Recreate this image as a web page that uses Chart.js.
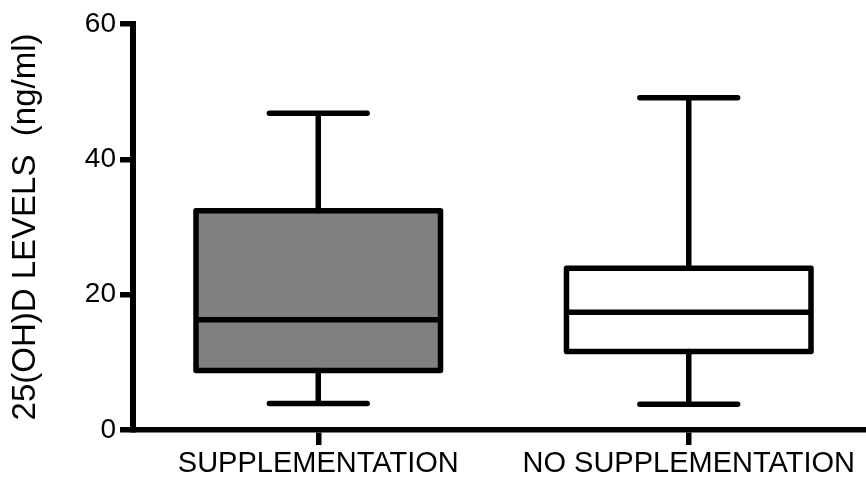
<!DOCTYPE html>
<html>
<head>
<meta charset="utf-8">
<script src="https://cdn.jsdelivr.net/npm/chart.js@4/dist/chart.umd.min.js"></script>
<style>
  html, body { margin: 0; padding: 0; background: #fff; overflow: hidden; }
  #wrap { width: 874px; height: 477px; }
</style>
</head>
<body>
<div id="wrap"><canvas id="grafico"></canvas></div>
<script>
// Dados (caixa: mínimo, Q1, mediana, Q3, máximo)
const categorias = ['SUPPLEMENTATION', 'NO SUPPLEMENTATION'];
const minimos = [3.9, 3.8];
const q1 = [8.8, 11.6];
const medianas = [16.3, 17.4];
const q3 = [32.4, 23.9];
const maximos = [46.8, 49.1];
const yTicks = [0, 20, 40, 60];
const tituloY = '25(OH)D LEVELS  (ng/ml)';

const cores = ['#808080', '#ffffff'];
const fonte = "'Liberation Sans', Arial, Helvetica, sans-serif";
const espessura = 5.5;

// Plugin que desenha contorno da caixa, mediana e bigodes
const boxPlot = {
    id: 'boxPlot',
    afterDatasetsDraw(chart) {
        const ctx = chart.ctx;
        const yScale = chart.scales.y;
        const meta = chart.getDatasetMeta(0);
        ctx.save();
        ctx.strokeStyle = '#000';
        ctx.lineWidth = espessura;
        ctx.lineJoin = 'round';
        ctx.lineCap = 'round';
        meta.data.forEach((bar, i) => {
            const half = bar.width / 2;
            const cap = bar.width * 0.2;
            const yTop = bar.y;
            const yBase = bar.base;
            const yMed = yScale.getPixelForValue(medianas[i]);
            const yMax = yScale.getPixelForValue(maximos[i]);
            const yMin = yScale.getPixelForValue(minimos[i]);

            // bigodes
            ctx.beginPath();
            ctx.moveTo(bar.x, yTop); ctx.lineTo(bar.x, yMax);
            ctx.moveTo(bar.x - cap, yMax); ctx.lineTo(bar.x + cap, yMax);
            ctx.moveTo(bar.x, yBase); ctx.lineTo(bar.x, yMin);
            ctx.moveTo(bar.x - cap, yMin); ctx.lineTo(bar.x + cap, yMin);
            ctx.stroke();

            // caixa
            ctx.beginPath();
            ctx.rect(bar.x - half, yTop, bar.width, yBase - yTop);
            ctx.stroke();

            // mediana
            ctx.beginPath();
            ctx.lineCap = 'butt';
            ctx.moveTo(bar.x - half, yMed); ctx.lineTo(bar.x + half, yMed);
            ctx.stroke();
            ctx.lineCap = 'round';
        });
        ctx.restore();
    }
};

new Chart(document.getElementById('grafico'), {
    type: 'bar',
    data: {
        labels: categorias,
        datasets: [{
            data: categorias.map((c, i) => [q1[i], q3[i]]),
            backgroundColor: cores,
            borderWidth: 0,
            barPercentage: 0.66,
            categoryPercentage: 1
        }]
    },
    options: {
        responsive: true,
        maintainAspectRatio: false,
        animation: false,
        events: [],
        layout: { padding: { top: 24, left: 0, right: 0, bottom: 0 } },
        plugins: { legend: { display: false }, tooltip: { enabled: false } },
        scales: {
            x: {
                offset: true,
                afterFit: s => { s.height = 47; },
                border: { display: true, color: '#000', width: espessura },
                grid: { display: true, offset: false, drawOnChartArea: false, drawTicks: true,
                        color: '#000', lineWidth: espessura, tickLength: 15, tickWidth: espessura },
                ticks: { color: '#000', padding: 2, maxRotation: 0, autoSkip: false,
                         font: { family: fonte, size: 29 } }
            },
            y: {
                min: 0,
                max: 60,
                afterFit: s => { s.width = 133; },
                afterBuildTicks: s => { s.ticks = yTicks.map(v => ({ value: v })); },
                border: { display: true, color: '#000', width: 6 },
                grid: { display: true, drawOnChartArea: false, drawTicks: true,
                        color: '#000', lineWidth: espessura, tickLength: 13, tickWidth: espessura },
                ticks: { color: '#000', padding: 4, font: { family: fonte, size: 28 } },
                title: { display: true, text: tituloY, color: '#000',
                         font: { family: fonte, size: 33, weight: 'normal' },
                         padding: { top: 6, bottom: 0 } }
            }
        }
    },
    plugins: [boxPlot]
});
</script>
</body>
</html>
